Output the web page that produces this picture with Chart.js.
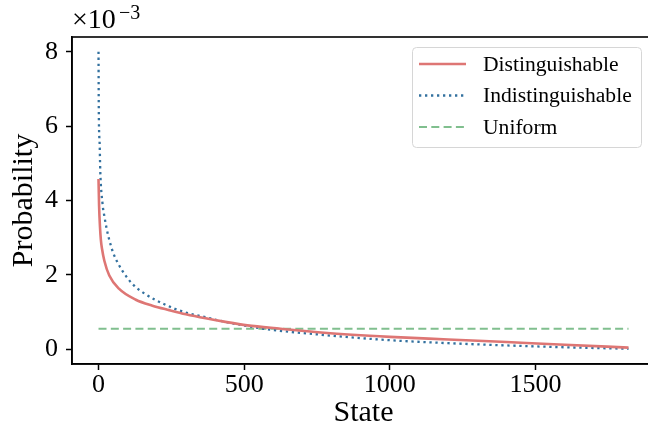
<!DOCTYPE html>
<html>
<head>
<meta charset="utf-8">
<script src="https://cdn.jsdelivr.net/npm/chart.js@4.4.0/dist/chart.umd.min.js"></script>
<style>
  html, body { margin: 0; padding: 0; background: #fff; overflow: hidden; }
  #wrap { width: 660px; height: 433px; }
</style>
</head>
<body>
<div id="wrap"><canvas id="probChart" width="660" height="433"></canvas></div>
<script>
// values (probability, axis shows x10^-3)
const distStates = [0, 2, 5, 8, 12, 20, 37, 71, 128, 185, 243, 300, 368, 431, 511, 625, 774, 1000, 1200, 1400, 1600, 1819];
const distProb = [4.58e-3, 3.85e-3, 3.30e-3, 2.95e-3, 2.70e-3, 2.38e-3, 1.98e-3, 1.62e-3, 1.33e-3, 1.17e-3, 1.05e-3,
    0.94e-3, 0.83e-3, 0.74e-3, 0.64e-3, 0.55e-3, 0.44e-3, 0.33e-3, 0.26e-3, 0.19e-3, 0.12e-3, 0.04e-3];

const indistStates = [0, 1, 4, 6, 14, 20, 28, 37, 50, 69, 94, 122, 157, 191, 231, 271, 311, 351, 431, 511, 568, 774, 1000, 1200, 1400, 1600, 1819];
const indistProb = [8.0e-3, 6.4e-3, 5.5e-3, 4.8e-3, 3.9e-3, 3.58e-3, 3.24e-3, 2.94e-3, 2.60e-3, 2.28e-3,
    1.97e-3, 1.71e-3, 1.50e-3, 1.34e-3, 1.19e-3, 1.06e-3, 0.96e-3, 0.89e-3, 0.74e-3, 0.62e-3,
    0.547e-3, 0.38e-3, 0.24e-3, 0.16e-3, 0.10e-3, 0.05e-3, 0.01e-3];

const uniformStates = [0, 1819];
const uniformProb = [0.549e-3, 0.549e-3];

const xTicks = [0, 500, 1000, 1500];
const yTicks = [0, 2e-3, 4e-3, 6e-3, 8e-3];

const seriesLabels = ['Distinguishable', 'Indistinguishable', 'Uniform'];

const SERIF = "'Liberation Serif', 'Times New Roman', serif";
Chart.defaults.font.family = SERIF;
Chart.defaults.color = '#000';

function toPoints(xs, ys) {
    return xs.map((x, i) => ({ x, y: ys[i] }));
}

// frame on all four sides
const framePlugin = {
    id: 'frame',
    afterDraw(chart) {
        const { ctx, chartArea: a } = chart;
        ctx.save();
        ctx.strokeStyle = '#000';
        ctx.lineWidth = 1.6;
        ctx.strokeRect(a.left, a.top, a.right - a.left, a.bottom - a.top);
        ctx.restore();
    }
};

// offset text "x10^-3" above the y axis
const offsetTextPlugin = {
    id: 'offsetText',
    afterDraw(chart) {
        const ctx = chart.ctx;
        ctx.save();
        ctx.fillStyle = '#000';
        ctx.textBaseline = 'alphabetic';
        ctx.textAlign = 'left';
        ctx.font = `28px ${SERIF}`;
        ctx.fillText('\u00d710', 72, 28);
        ctx.font = `20px ${SERIF}`;
        ctx.fillText('\u22123', 119, 19);
        ctx.restore();
    }
};

// legend box in the upper right of the plot
const boxLegendPlugin = {
    id: 'boxLegend',
    afterDraw(chart) {
        const ctx = chart.ctx;
        const box = { x: 412.5, y: 47.5, w: 229, h: 100, r: 4 };
        ctx.save();
        ctx.beginPath();
        ctx.roundRect(box.x, box.y, box.w, box.h, box.r);
        ctx.fillStyle = 'rgba(255,255,255,0.85)';
        ctx.fill();
        ctx.strokeStyle = '#d6d6d6';
        ctx.lineWidth = 1;
        ctx.stroke();

        ctx.font = `21.6px ${SERIF}`;
        ctx.textBaseline = 'middle';
        ctx.textAlign = 'left';
        chart.data.datasets.forEach((ds, i) => {
            const y = 64 + i * 31.5;
            ctx.beginPath();
            ctx.setLineDash(ds.borderDash || []);
            ctx.lineWidth = ds.borderWidth;
            ctx.strokeStyle = ds.borderColor;
            ctx.moveTo(419, y);
            ctx.lineTo(466, y);
            ctx.stroke();
            ctx.setLineDash([]);
            ctx.fillStyle = '#000';
            ctx.fillText(ds.label, 483, y + 1);
        });
        ctx.restore();
    }
};

const ctx = document.getElementById('probChart').getContext('2d');

new Chart(ctx, {
    type: 'line',
    data: {
        datasets: [
            {
                label: seriesLabels[0],
                data: toPoints(distStates, distProb),
                borderColor: '#de7674',
                borderWidth: 2.6,
                cubicInterpolationMode: 'monotone',
                pointRadius: 0
            },
            {
                label: seriesLabels[1],
                data: toPoints(indistStates, indistProb),
                borderColor: '#33719f',
                borderWidth: 2.3,
                borderDash: [2.3, 3.7],
                cubicInterpolationMode: 'monotone',
                pointRadius: 0
            },
            {
                label: seriesLabels[2],
                data: toPoints(uniformStates, uniformProb),
                borderColor: '#80bf8e',
                borderWidth: 2.2,
                borderDash: [8, 4.3],
                pointRadius: 0
            }
        ]
    },
    options: {
        responsive: false,
        animation: false,
        layout: { padding: { top: 37, right: 5, left: 0, bottom: 0 } },
        plugins: {
            legend: { display: false },
            tooltip: { enabled: false }
        },
        scales: {
            x: {
                type: 'linear',
                min: -91,
                max: 1910,
                afterBuildTicks: s => { s.ticks = xTicks.map(v => ({ value: v })); },
                afterFit: s => { s.height = 69; },
                ticks: {
                    font: { size: 26 },
                    color: '#000',
                    padding: 0,
                    maxRotation: 0,
                    callback: v => String(v)
                },
                grid: {
                    drawOnChartArea: false,
                    tickLength: 6,
                    tickWidth: 1.5,
                    tickColor: '#000'
                },
                border: { display: true, color: '#000', width: 1.6 },
                title: {
                    display: true,
                    text: 'State',
                    font: { size: 30 },
                    color: '#000',
                    padding: { top: 0, bottom: 2 }
                }
            },
            y: {
                min: -0.4e-3,
                max: 8.4e-3,
                afterBuildTicks: s => { s.ticks = yTicks.map(v => ({ value: v })); },
                afterFit: s => { s.width = 72; },
                ticks: {
                    font: { size: 26 },
                    color: '#000',
                    padding: 8,
                    callback: v => String(Math.round(v * 1000))
                },
                grid: {
                    drawOnChartArea: false,
                    tickLength: 6,
                    tickWidth: 1.5,
                    tickColor: '#000'
                },
                border: { display: true, color: '#000', width: 1.6 },
                title: {
                    display: true,
                    text: 'Probability',
                    font: { size: 30 },
                    color: '#000',
                    padding: { top: 6, bottom: 0 }
                }
            }
        }
    },
    plugins: [framePlugin, offsetTextPlugin, boxLegendPlugin]
});
</script>
</body>
</html>
